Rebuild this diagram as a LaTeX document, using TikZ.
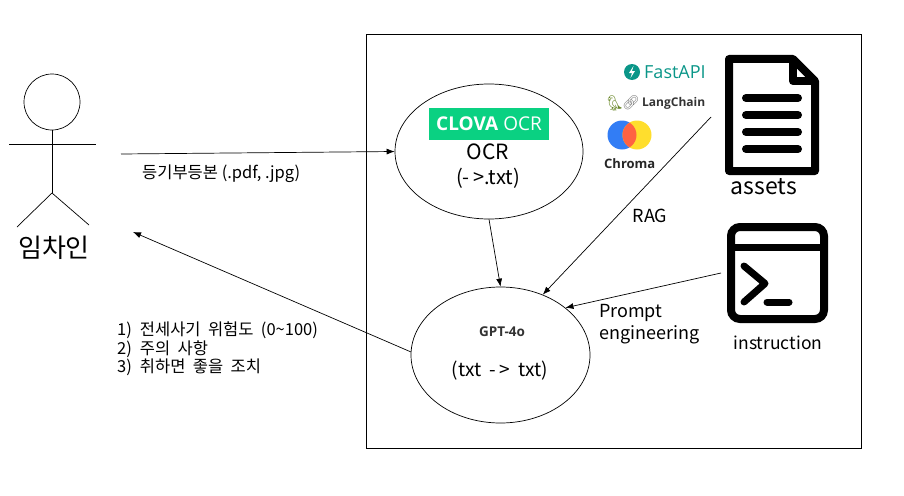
\documentclass[tikz,border=0pt]{standalone}
\usepackage{fontspec}
\setmainfont{Noto Sans CJK KR}
\newfontfamily\latinfont{Open Sans}
\newfontfamily\emojifont{Noto Emoji}
\newfontfamily\listfont[WordSpace=2]{Noto Sans CJK KR}
\usetikzlibrary{arrows.meta,positioning,shapes.geometric}
\definecolor{clovagreen}{RGB}{10,209,130}
\definecolor{fastteal}{RGB}{10,150,136}
\definecolor{chromablue}{RGB}{50,125,245}
\definecolor{chromayellow}{RGB}{255,222,45}
\definecolor{chromared}{RGB}{255,98,66}
\definecolor{parrotgreen}{RGB}{105,135,40}

\begin{document}
\begin{tikzpicture}[x=1pt,y=-1pt,>={Latex[length=8pt,width=6pt]}, every node/.style={font=\fontsize{16.5}{19}\selectfont}]
\tikzstyle{bubble}=[ellipse, draw=black, line width=0.7pt, inner sep=0pt]
\tikzstyle{limb}=[draw=black, line width=0.7pt]
\tikzstyle{link}=[->, draw=black, line width=0.7pt]
\tikzstyle{icon}=[line width=8pt, line join=round, draw=black]
\tikzstyle{rowbar}=[line width=8pt, line cap=round, draw=black]
\useasboundingbox (0,0) rectangle (904,495);
\node[draw=black, line width=0.7pt, minimum width=495pt, minimum height=414pt, inner sep=0pt] (frame) at (613.5,241) {};
% person
\node[bubble, minimum width=56pt, minimum height=56pt] (head) at (52,102) {};
\coordinate (hip) at (52,193);
\coordinate (armL) at (9,144);
\coordinate (armR) at (96,144);
\coordinate (footL) at (17,227);
\coordinate (footR) at (89,225);
\draw[limb] (head.south) -- (hip);
\draw[limb] (armL) -- (armR);
\draw[limb] (footL) -- (hip) -- (footR);
\node[font=\fontsize{26}{30}\selectfont] (tenant) at (54,248) {임차인};
% services
\node[bubble, minimum width=188pt, minimum height=135pt] (ocr) at (489,151.5) {};
\node[bubble, minimum width=179pt, minimum height=136pt] (gpt) at (500.5,355) {};
\node[fill=clovagreen, minimum width=120pt, minimum height=32pt, inner sep=0pt] (clova) at (489,124) {};
\node[text=white, font=\fontsize{19}{21}\latinfont] (clovatxt) at (clova) {\textbf{CLOVA} OCR};
\node[font=\fontsize{21}{24}\selectfont] (ocrtxt) at (488,152) {OCR};
\node[font=\fontsize{20}{23}\selectfont] (ocrfmt) at (488,178) {(-\,>.txt)};
\node[font=\fontsize{13.5}{16}\latinfont\bfseries, text=black!80] (gpttxt) at (502,332) {GPT-4o};
\node[font=\fontsize{19}{22}\selectfont] (gptfmt) at (500,371) {(txt\ \ -\,>\ \ txt)};
% logos
\node[circle, fill=fastteal, minimum size=16pt, inner sep=0pt] (fastdot) at (632,72) {};
\fill[white] (633.5,66) -- (629,73) -- (632,73) -- (630.5,78) -- (635,71) -- (632,71) -- cycle;
\node[text=fastteal, font=\fontsize{18}{20}\latinfont, anchor=west, inner sep=0pt] (fast) at (644,72) {FastAPI};
\node[text=parrotgreen, font=\fontsize{15}{18}\emojifont, inner sep=0pt] (parrot) at (615,103) {🦜};
\node[text=black!50, font=\fontsize{14}{18}\emojifont, inner sep=0pt] (chain) at (631,103) {🔗};
\node[text=black!80, font=\fontsize{12}{14}\latinfont\bfseries, anchor=west, inner sep=0pt] (lang) at (642,103.5) {LangChain};
\fill[chromablue] (622,135) circle (14.5);
\fill[chromayellow] (637,135) circle (14.5);
\begin{scope}
\clip (622,135) circle (14.5);
\fill[chromared] (637,135) circle (14.5);
\end{scope}
\node[text=black!85, font=\fontsize{13}{15}\latinfont\bfseries, anchor=west, inner sep=0pt] (chroma) at (604,164) {Chroma};
% document icon
\draw[icon] (729,59) -- (793,59) -- (815,81) -- (815,171) -- (729,171) -- cycle;
\draw[icon] (793,59) -- (793,81) -- (815,81);
\foreach \rowy in {98,115,132,149}
  \draw[rowbar] (746,\rowy) -- (798,\rowy);
\node[font=\fontsize{23}{27}\selectfont] (assets) at (764,187) {assets};
% terminal icon
\node[draw=black, line width=8pt, rounded corners=9pt, minimum width=93pt, minimum height=92pt, inner sep=0pt] (term) at (777.5,273) {};
\draw[line width=7pt] (term.west |- 0,247) -- (term.east |- 0,247);
\draw[line width=7pt, line cap=round, line join=round] (744,266) -- (765,283.5) -- (744,302);
\draw[line width=7pt, line cap=round] (767,302) -- (789,302);
\node[font=\fontsize{17.5}{21}\selectfont] (instr) at (778,343) {instruction};
% connectors
\coordinate (sendfrom) at (121,154);
\coordinate (replyto) at (133,232);
\coordinate (ragfrom) at (711,117);
\coordinate (promptfrom) at (721,273);
\draw[link] (sendfrom) -- (ocr.west);
\draw[link] (ocr.south) -- (gpt.north);
\draw[link] (gpt.178) -- (replyto);
\draw[link] (ragfrom) -- (gpt.55);
\draw[link] (promptfrom) -- (gpt.36);
% labels
\node[anchor=west, inner sep=0pt] (sendtxt) at (142,174) {등기부등본 (.pdf, .jpg)};
\node[anchor=north west, align=left, inner sep=0pt, font=\fontsize{16.5}{18.5}\listfont] (replytxt) at (117,322) {1)\hspace{8pt}전세사기 위험도 (0\textasciitilde100)\\2)\hspace{8pt}주의 사항\\3)\hspace{8pt}취하면 좋을 조치};
\node[font=\fontsize{18}{21}\selectfont] (rag) at (650,216) {RAG};
\node[anchor=west, align=left, inner sep=0pt, font=\fontsize{18}{22}\selectfont] (prompt) at (599,324) {Prompt\\engineering};
\end{tikzpicture}
\end{document}
